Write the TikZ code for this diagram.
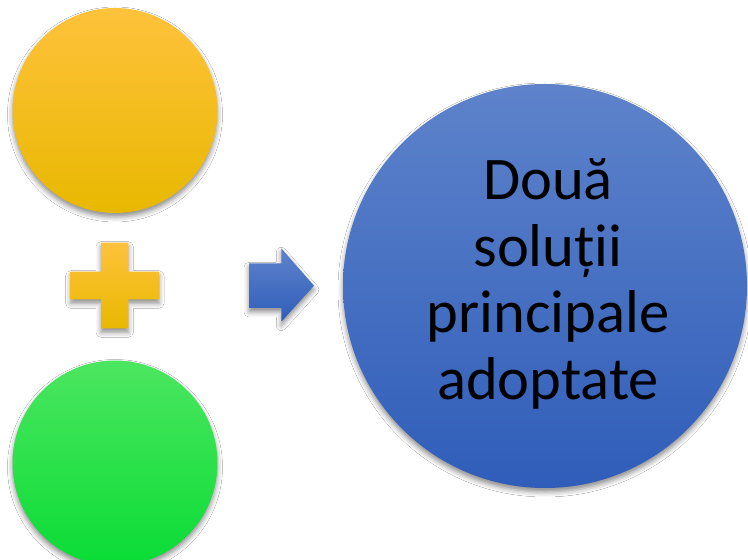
\documentclass[tikz,border=0pt]{standalone}
\usepackage{fontspec}
\setmainfont{Carlito}
\usetikzlibrary{shadows.blur}
\definecolor{ytop}{HTML}{FFC23C}
\definecolor{ymid}{HTML}{FFC602}
\definecolor{ybot}{HTML}{E8B800}
\definecolor{gtop}{HTML}{4CE660}
\definecolor{gmid}{HTML}{22E84C}
\definecolor{gbot}{HTML}{0ADC35}
\definecolor{btop}{HTML}{5E83CB}
\definecolor{bmid}{HTML}{4271C6}
\definecolor{bbot}{HTML}{2F5DB9}
\tikzset{
  softshadow/.style={blur shadow={shadow xshift=0pt, shadow yshift=-4pt, shadow blur radius=5pt, shadow opacity=45}},
  yellowfill/.style={top color=ytop, middle color=ymid, bottom color=ybot, draw=none, softshadow},
  greenfill/.style={top color=gtop, middle color=gmid, bottom color=gbot, draw=none, softshadow},
  bluefill/.style={top color=btop, middle color=bmid, bottom color=bbot, draw=none, softshadow},
  disc/.style={circle, inner sep=0pt, minimum size=#1},
}
\begin{document}
\begin{tikzpicture}[x=1pt,y=1pt]
\useasboundingbox (0,0) rectangle (748,560);
\fill[white] (0,0) rectangle (748,560);
% yellow circle
\node[disc=205, yellowfill] (yellow) at (115,449.5) {};
% green circle
\node[disc=205, greenfill] (green) at (115,97) {};
% plus sign
\path[yellowfill] (101,317.3) -- (128.3,317.3) -- (128.3,288.3) -- (159,288.3) -- (159,260.7)
  -- (128.3,260.7) -- (128.3,231.7) -- (101,231.7) -- (101,260.7) -- (70.7,260.7)
  -- (70.7,288.3) -- (101,288.3) -- cycle;
% block arrow
\path[bluefill] (249,296.7) -- (281.3,296.7) -- (281.3,311.7) -- (314,274.3)
  -- (281.3,238.3) -- (281.3,252) -- (249,252) -- cycle;
% blue circle with text
\node[disc=404, bluefill] (blue) at (545,274) {};
\node[align=center, font=\fontsize{60.5}{66.7}\selectfont, inner sep=0pt] (label) at (548,276)
  {Două\\soluții\\principale\\adoptate};
\end{tikzpicture}
\end{document}
